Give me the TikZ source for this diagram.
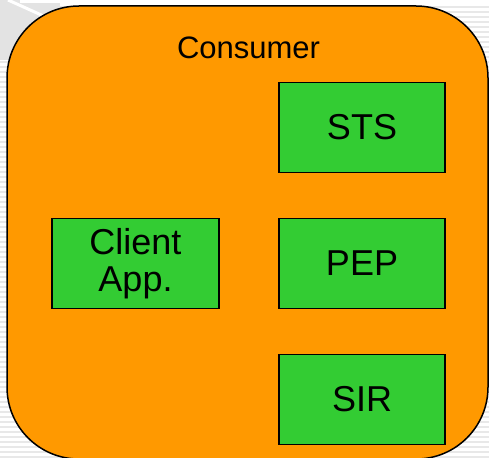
\documentclass[tikz,border=0pt]{standalone}
\usepackage{fontspec}
\setmainfont{Liberation Sans}
\begin{document}
\begin{tikzpicture}[x=1pt,y=-1pt,
  comp/.style={draw=black,line width=1.5pt,fill=compgreen,minimum width=166pt,minimum height=90pt,
    inner sep=0pt,font=\fontsize{36}{37}\selectfont,align=center,text=black},
  stripe/.style={draw=black!9,line width=2.2pt}]
\definecolor{compgreen}{RGB}{51,204,51}
\definecolor{consorange}{RGB}{255,153,0}
\useasboundingbox (0,0) rectangle (489,457);
% striped slide background
\fill[white] (0,0) rectangle (489,457);
\foreach \y in {2,7,...,457} {\draw[stripe] (0,\y) -- (489,\y);}
% shaded top-left corner with highlight
\fill[black!11] (0,0) -- (60,0) -- (60,60) -- (0,60) -- cycle;
\draw[white,line width=3pt] (8,0) -- (48,18);
\fill[white] (20,0) rectangle (489,3);
% consumer container
\draw[fill=consorange,draw=black,line width=1.5pt,rounded corners=72pt] (7,6) rectangle (488,459);
\node[anchor=base,font=\fontsize{31}{32}\selectfont] (cons) at (248.5,59) {Consumer};
% components
\node[comp] (sts) at (362,127.5) {STS};
\node[comp] (pep) at (362,263.5) {PEP};
\node[comp] (sir) at (362,399.5) {SIR};
\node[comp,minimum width=167pt] (app) at (135.5,263.5) {Client\\App.};
\end{tikzpicture}
\end{document}
